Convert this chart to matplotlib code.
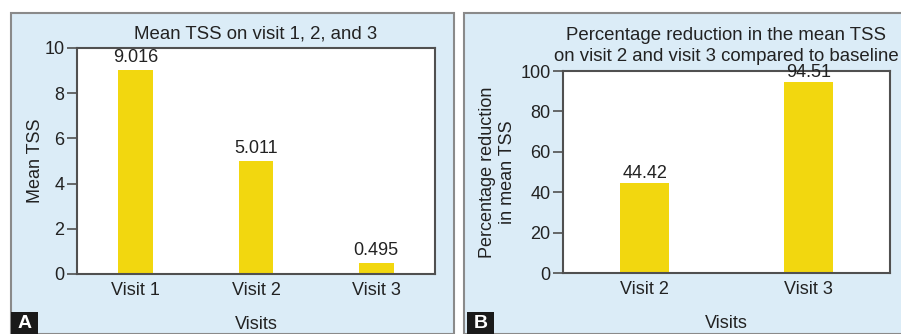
import matplotlib
matplotlib.use("Agg")
import matplotlib.pyplot as plt
from matplotlib.patches import Rectangle

plt.rcParams['font.family'] = ['Liberation Sans', 'DejaVu Sans']

# Data
visits_a = ["Visit 1", "Visit 2", "Visit 3"]
mean_tss = [9.016, 5.011, 0.495]
mean_tss_labels = ["9.016", "5.011", "0.495"]

visits_b = ["Visit 2", "Visit 3"]
pct_reduction = [44.42, 94.51]
pct_labels = ["44.42", "94.51"]

W, H = 901, 334
fig = plt.figure(figsize=(W / 100, H / 100), dpi=100)
fig.patch.set_facecolor("white")

bg = "#dbecf7"
edge = "#8a8a8a"
bar_color = "#f2d70f"
spine_color = "#505050"
text_color = "#222222"
fs = 13
tfs = 13.4


def fx(px):
    return px / W


def fy(py):
    return 1 - py / H


# panel backgrounds
fig.patches.append(Rectangle((fx(11), 0), fx(454) - fx(11), fy(13), transform=fig.transFigure,
                             facecolor=bg, edgecolor=edge, linewidth=1.5, zorder=-5))
fig.patches.append(Rectangle((fx(464), 0), fx(905) - fx(464), fy(13), transform=fig.transFigure,
                             facecolor=bg, edgecolor=edge, linewidth=1.5, zorder=-5))


def style_axes(ax):
    ax.set_facecolor("white")
    for s in ax.spines.values():
        s.set_color(spine_color)
        s.set_linewidth(1.5)
    ax.tick_params(axis="y", direction="out", length=7, width=1.2, color=spine_color,
                   labelsize=fs, labelcolor=text_color, pad=2)
    ax.tick_params(axis="x", length=0, labelsize=fs, labelcolor=text_color, pad=6)


# Panel A
axA = fig.add_axes([fx(77), fy(274), fx(435) - fx(77), fy(48) - fy(274)])
style_axes(axA)
xa = list(range(len(visits_a)))
axA.bar(xa, mean_tss, width=0.29, color=bar_color)
axA.set_xlim(-0.49, 2.49)
axA.set_ylim(0, 10)
axA.set_yticks([0, 2, 4, 6, 8, 10])
axA.set_xticks(xa)
axA.set_xticklabels(visits_a)
for x, v, lab in zip(xa, mean_tss, mean_tss_labels):
    axA.annotate(lab, (x, v), xytext=(0, 3), textcoords="offset points", ha="center",
                 va="bottom", fontsize=fs, color=text_color)
axA.set_title("Mean TSS on visit 1, 2, and 3", fontsize=tfs, color=text_color, pad=7)
axA.set_ylabel("Mean TSS", fontsize=fs, color=text_color, labelpad=0)
axA.set_xlabel("Visits", fontsize=fs, color=text_color, labelpad=12)

# Panel B
axB = fig.add_axes([fx(563), fy(273), fx(890) - fx(563), fy(71) - fy(273)])
style_axes(axB)
xb = list(range(len(visits_b)))
axB.bar(xb, pct_reduction, width=0.30, color=bar_color)
axB.set_xlim(-0.5, 1.5)
axB.set_ylim(0, 100)
axB.set_yticks([0, 20, 40, 60, 80, 100])
axB.set_xticks(xb)
axB.set_xticklabels(visits_b)
for x, v, lab in zip(xb, pct_reduction, pct_labels):
    axB.annotate(lab, (x, v), xytext=(0, 1), textcoords="offset points", ha="center",
                 va="bottom", fontsize=fs, color=text_color)
axB.set_title("Percentage reduction in the mean TSS\non visit 2 and visit 3 compared to baseline",
              fontsize=tfs, color=text_color, pad=7, linespacing=1.3)
axB.set_ylabel("Percentage reduction\nin mean TSS", fontsize=fs, color=text_color,
               labelpad=3, linespacing=1.25)
axB.set_xlabel("Visits", fontsize=fs, color=text_color, labelpad=12)

# Panel letters
for x0, letter in [(11, "A"), (467, "B")]:
    fig.patches.append(Rectangle((fx(x0), 0), fx(27), fy(312), transform=fig.transFigure,
                                 facecolor="#1a1a1a", edgecolor="none", zorder=5))
    fig.text(fx(x0 + 13.5), fy(323), letter, color="white", fontsize=14, fontweight="bold",
             ha="center", va="center", zorder=6)

fig.savefig("out.png", dpi=100)
